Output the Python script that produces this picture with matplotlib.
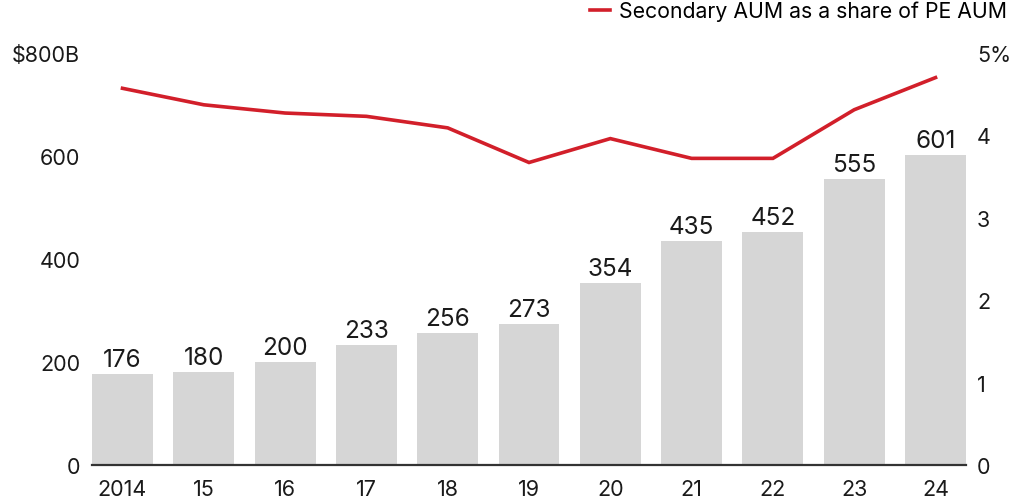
import matplotlib.pyplot as plt
import numpy as np

plt.rcParams['font.family'] = ['Inter', 'DejaVu Sans']

# === DATA ===
years = ['2014', '15', '16', '17', '18', '19', '20', '21', '22', '23', '24']
secondary_aum = [176, 180, 200, 233, 256, 273, 354, 435, 452, 555, 601]
share_of_pe = [4.57, 4.37, 4.27, 4.23, 4.09, 3.67, 3.96, 3.72, 3.72, 4.31, 4.70]

left_ticks = [0, 200, 400, 600, 800]
left_labels = ['0', '200', '400', '600', '$800B']
right_ticks = [0, 1, 2, 3, 4, 5]
right_labels = ['0', '1', '2', '3', '4', '5%']

BAR_COLOR = '#d6d6d6'
LINE_COLOR = '#d21f2a'
TEXT_COLOR = '#1a1a1a'

# === PLOT ===
fig = plt.figure(figsize=(10.11, 5.02), dpi=100)
ax = fig.add_axes([0.091, 0.0717, 0.8645, 0.821])
x = np.arange(len(years))

ax.bar(x, secondary_aum, width=0.75, color=BAR_COLOR, zorder=2)
for xi, v in zip(x, secondary_aum):
    ax.text(xi, v + 6, str(v), ha='center', va='bottom', fontsize=17.5, color=TEXT_COLOR)

ax.set_xlim(-0.375, len(years) - 0.625)
ax.set_ylim(0, 800)
ax.set_yticks(left_ticks)
ax.set_yticklabels(left_labels)
ax.set_xticks(x)
ax.set_xticklabels(years)
ax.tick_params(axis='both', length=0, labelsize=15.5, colors=TEXT_COLOR)
ax.tick_params(axis='y', pad=8.5)
ax.tick_params(axis='x', pad=10)
for side in ['top', 'right', 'left']:
    ax.spines[side].set_visible(False)
ax.spines['bottom'].set_color('#333333')
ax.spines['bottom'].set_linewidth(1.6)
ax.spines['bottom'].set_zorder(3)

ax2 = ax.twinx()
ax2.plot(x, share_of_pe, color=LINE_COLOR, linewidth=2.6, solid_joinstyle='miter',
         label='Secondary AUM as a share of PE AUM')
ax2.set_ylim(0, 5)
ax2.set_yticks(right_ticks)
ax2.set_yticklabels(right_labels)
ax2.tick_params(axis='y', length=0, labelsize=15.5, colors=TEXT_COLOR, pad=8)
for side in ['top', 'right', 'left', 'bottom']:
    ax2.spines[side].set_visible(False)

fig.legend(loc='upper right', bbox_to_anchor=(1.008, 1.02), frameon=False,
           fontsize=15.3, handlelength=0.95, handletextpad=0.45, borderaxespad=0.15)

plt.savefig('out.png', dpi=100)
